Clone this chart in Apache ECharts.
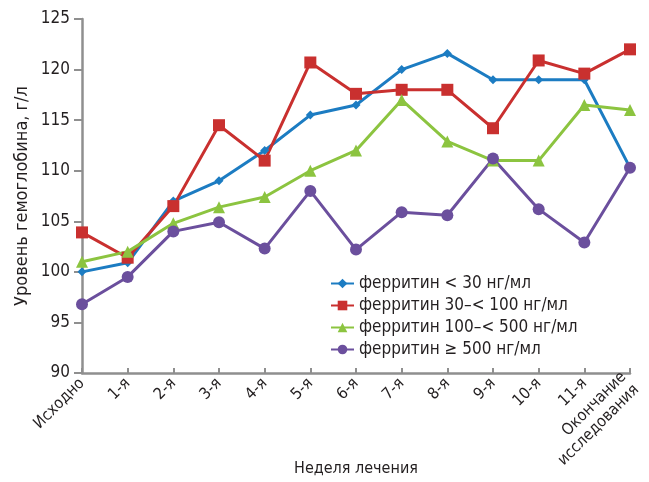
<!DOCTYPE html>
<html>
<head>
<meta charset="utf-8">
<script src="https://cdn.jsdelivr.net/npm/echarts@6/dist/echarts.min.js"></script>
<style>
  html, body { margin: 0; padding: 0; background: #fff; }
  #chart { width: 649px; height: 482px; }
</style>
</head>
<body>
<div id="chart"></div>
<script>
const weeks = ["Исходно", "1-я", "2-я", "3-я", "4-я", "5-я", "6-я", "7-я", "8-я", "9-я", "10-я", "11-я", "Окончание\nисследования"];

const ferritinUnder30 = [100, 100.9, 107, 109, 112, 115.5, 116.5, 120, 121.6, 119, 119, 119, 110.3];
const ferritin30to100 = [103.9, 101.4, 106.5, 114.5, 111, 120.7, 117.6, 118, 118, 114.2, 120.9, 119.6, 122];
const ferritin100to500 = [101, 102, 104.8, 106.4, 107.4, 110, 112, 117, 112.9, 111, 111, 116.5, 116];
const ferritinOver500 = [96.8, 99.5, 104, 104.9, 102.3, 108, 102.2, 105.9, 105.6, 111.2, 106.2, 102.9, 110.3];

const seriesNames = [
  "ферритин < 30 нг/мл",
  "ферритин 30–< 100 нг/мл",
  "ферритин 100–< 500 нг/мл",
  "ферритин ≥ 500 нг/мл"
];

const font = "'Liberation Sans Narrow', 'DejaVu Sans Condensed', sans-serif";
const textColor = "#231f20";
const axisColor = "#8f8f8f";

const chart = echarts.init(document.getElementById("chart"), null, { renderer: "canvas" });

function line(name, data, color, symbol, size) {
  return {
    name: name,
    type: "line",
    data: data,
    symbol: symbol,
    symbolSize: size,
    showAllSymbol: true,
    lineStyle: { color: color, width: 3 },
    itemStyle: { color: color },
    z: 3
  };
}

chart.setOption({
  backgroundColor: "#fff",
  animation: false,
  textStyle: { fontFamily: font },
  grid: { left: 82, right: 19, top: 19, bottom: 109, outerBoundsMode: "none", containLabel: false },
  legend: {
    orient: "vertical",
    left: 325,
    top: 270,
    itemWidth: 23,
    itemHeight: 12,
    itemGap: 5,
    textStyle: { fontSize: 17, color: textColor, fontFamily: font },
    data: seriesNames
  },
  xAxis: {
    type: "category",
    data: weeks,
    boundaryGap: false,
    name: "Неделя лечения",
    nameLocation: "middle",
    nameGap: 88,
    nameMoveOverlap: false,
    nameTextStyle: { fontSize: 16, color: textColor, fontFamily: font },
    axisLine: { lineStyle: { color: axisColor, width: 2.5 } },
    axisTick: { inside: true, length: 5, lineStyle: { color: axisColor, width: 2 } },
    axisLabel: {
      rotate: 45,
      interval: 0,
      fontSize: 16,
      color: textColor,
      fontFamily: font,
      margin: 8,
      lineHeight: 18
    },
    splitLine: { show: false }
  },
  yAxis: {
    type: "value",
    min: 90,
    max: 125,
    interval: 5,
    name: "Уровень гемоглобина, г/л",
    nameLocation: "middle",
    nameGap: 51,
    nameMoveOverlap: false,
    nameTextStyle: { fontSize: 18, color: textColor, fontFamily: font },
    axisLine: { show: true, lineStyle: { color: axisColor, width: 2.5 } },
    axisTick: { show: true, length: 8, lineStyle: { color: axisColor, width: 2 } },
    axisLabel: { fontSize: 17, color: textColor, fontFamily: font, margin: 12 },
    splitLine: { show: false }
  },
  series: [
    line(seriesNames[0], ferritinUnder30, "#1c7cc2", "diamond", 9),
    line(seriesNames[1], ferritin30to100, "#c9302f", "rect", 12),
    line(seriesNames[2], ferritin100to500, "#8cc440", "triangle", 12),
    line(seriesNames[3], ferritinOver500, "#6b4f9d", "circle", 12)
  ]
});
</script>
</body>
</html>
